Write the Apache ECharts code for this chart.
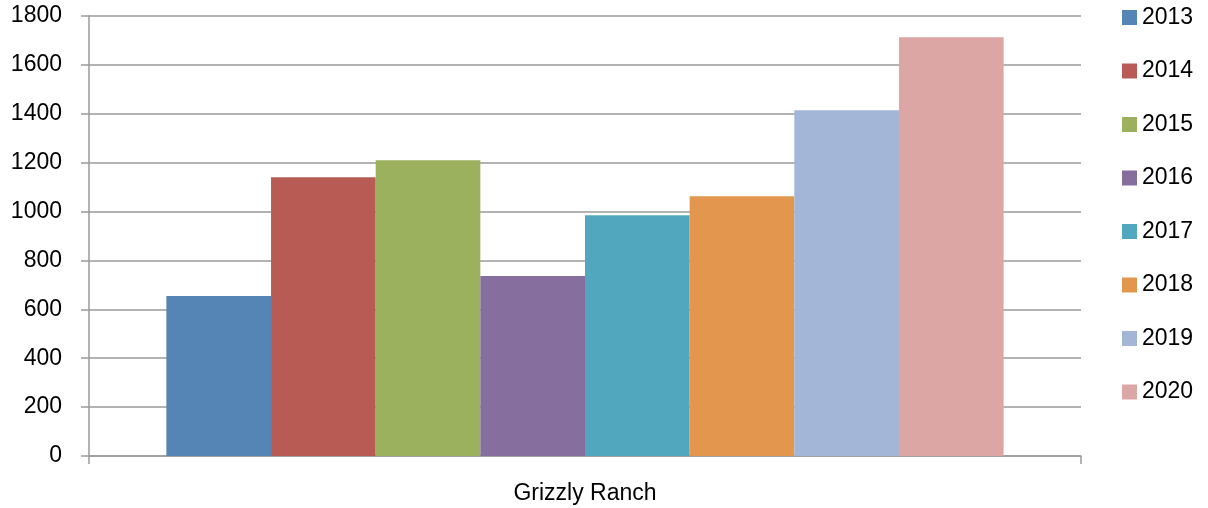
<!DOCTYPE html>
<html>
<head>
<meta charset="utf-8">
<script src="https://cdn.jsdelivr.net/npm/echarts@6/dist/echarts.min.js"></script>
<style>
html,body{margin:0;padding:0;background:#fff;}
#chart{width:1208px;height:508px;}
</style>
</head>
<body>
<div id="chart"></div>
<script>
const categories = ['Grizzly Ranch'];
const years = ['2013','2014','2015','2016','2017','2018','2019','2020'];
const values = [655, 1140, 1210, 736, 985, 1063, 1414, 1713];
const colors = ['#5585b5','#b85b54','#9cb15e','#866e9e','#51a7be','#e3964d','#a3b6d7','#dba6a3'];
const yTicks = {min: 0, max: 1800, interval: 200};

const FONT = 'Liberation Sans';
const chart = echarts.init(document.getElementById('chart'), null, {renderer: 'canvas'});
const series = years.map((y, i) => ({
  name: y,
  type: 'bar',
  data: [values[i]],
  itemStyle: {color: colors[i]},
  barGap: '0%',
  barCategoryGap: '15.6%'
}));
chart.setOption({
  animation: false,
  backgroundColor: '#ffffff',
  textStyle: {fontFamily: FONT},
  grid: {left: 89, right: 127, top: 16, bottom: 52, containLabel: false},
  legend: {
    orient: 'vertical',
    left: 1117,
    top: 1,
    itemWidth: 15,
    itemHeight: 15,
    itemGap: 30.5,
    icon: 'rect',
    data: years,
    textStyle: {fontSize: 23, color: '#000', fontFamily: FONT, lineHeight: 23}
  },
  xAxis: {
    type: 'category',
    data: categories,
    axisLine: {lineStyle: {color: '#9a9a9a', width: 1.5}},
    axisTick: {show: true, length: 8, lineStyle: {color: '#9a9a9a', width: 1.5}},
    axisLabel: {fontSize: 23, color: '#000', margin: 26, fontFamily: FONT}
  },
  yAxis: {
    type: 'value',
    min: yTicks.min,
    max: yTicks.max,
    interval: yTicks.interval,
    axisLine: {show: true, lineStyle: {color: '#9a9a9a', width: 1.5}},
    axisTick: {show: true, length: 8, lineStyle: {color: '#9a9a9a', width: 1.5}},
    axisLabel: {fontSize: 23, color: '#000', margin: 27, fontFamily: FONT, formatter: v => String(v)},
    splitLine: {lineStyle: {color: '#9a9a9a', width: 1.5}}
  },
  series: series
});
</script>
</body>
</html>
